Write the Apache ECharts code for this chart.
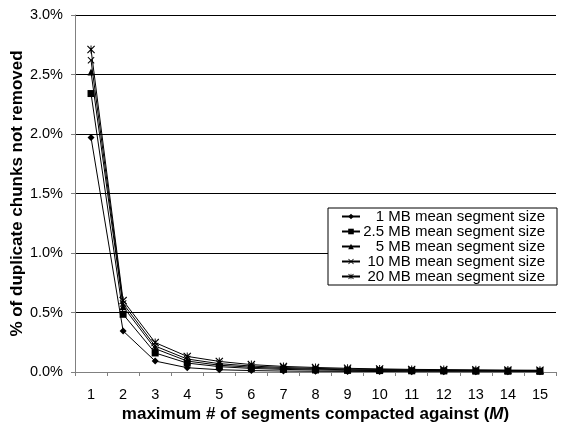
<!DOCTYPE html>
<html>
<head>
<meta charset="utf-8">
<script src="https://cdn.jsdelivr.net/npm/echarts@6/dist/echarts.min.js"></script>
<style>html,body{margin:0;padding:0;background:#fff}#c{width:568px;height:423px}</style>
</head>
<body>
<div id="c"></div>
<script>
const categories = ['1','2','3','4','5','6','7','8','9','10','11','12','13','14','15'];
const seriesNames = ['1 MB mean segment size','2.5 MB mean segment size','5 MB mean segment size','10 MB mean segment size','20 MB mean segment size'];
const s1MB   = [1.97, 0.345, 0.092, 0.036, 0.019, 0.012, 0.008, 0.006, 0.005, 0.004, 0.003, 0.003, 0.002, 0.002, 0.002];
const s2_5MB = [2.34, 0.485, 0.160, 0.075, 0.045, 0.030, 0.022, 0.017, 0.014, 0.012, 0.010, 0.009, 0.008, 0.007, 0.006];
const s5MB   = [2.52, 0.550, 0.196, 0.092, 0.057, 0.040, 0.030, 0.024, 0.019, 0.016, 0.014, 0.012, 0.011, 0.010, 0.009];
const s10MB  = [2.62, 0.575, 0.218, 0.109, 0.070, 0.050, 0.038, 0.030, 0.025, 0.021, 0.018, 0.016, 0.014, 0.013, 0.012];
const s20MB  = [2.71, 0.600, 0.247, 0.131, 0.089, 0.062, 0.047, 0.038, 0.031, 0.026, 0.022, 0.020, 0.018, 0.016, 0.015];
const yTicks = {min: 0, max: 3, interval: 0.5};

const crossPath = 'path://M0,1 L1,0 L5,4 L9,0 L10,1 L6,5 L10,9 L9,10 L5,6 L1,10 L0,9 L4,5 Z';
const starPath = 'path://M0,1 L1,0 L5,4 L9,0 L10,1 L6,5 L10,9 L9,10 L5,6 L1,10 L0,9 L4,5 Z M4.4,0 L5.6,0 L5.6,10 L4.4,10 Z';
const symbols = ['diamond','rect','triangle',crossPath,starPath];
const sizes = [7,7,7,7,8];
const allData = [s1MB, s2_5MB, s5MB, s10MB, s20MB];

const chart = echarts.init(document.getElementById('c'));
const font = 'Liberation Sans, Arial, sans-serif';
chart.setOption({
  animation: false,
  backgroundColor: '#fff',
  grid: {left: 75, right: 12, top: 15, bottom: 51, containLabel: false, outerBoundsMode: 'none'},
  legend: {
    orient: 'vertical',
    left: 328, top: 208,
    padding: [1, 12, 1, 13],
    itemGap: 0,
    itemWidth: 18,
    itemHeight: 7,
    backgroundColor: '#fff',
    borderColor: '#000',
    borderWidth: 1,
    borderRadius: 0,
    data: seriesNames,
    formatter: n => '{a|' + n + '}',
    textStyle: {
      fontFamily: font, fontSize: 15, color: '#000',
      rich: {a: {width: 180, lineHeight: 17, align: 'right', fontFamily: font, fontSize: 15, color: '#000'}}
    }
  },
  xAxis: {
    type: 'category',
    data: categories,
    boundaryGap: true,
    axisLine: {lineStyle: {color: '#808080', width: 1}},
    axisTick: {show: true, alignWithLabel: false, length: 4, lineStyle: {color: '#808080'}},
    axisLabel: {fontFamily: font, fontSize: 14.5, color: '#000', margin: 15},
    name: 'maximum # of segments compacted against ({i|M})',
    nameLocation: 'middle',
    nameGap: 34,
    nameMoveOverlap: false,
    nameTextStyle: {
      fontFamily: font, fontSize: 17, fontWeight: 'bold', color: '#000',
      rich: {i: {fontFamily: font, fontSize: 17, fontWeight: 'bold', fontStyle: 'italic', color: '#000'}}
    }
  },
  yAxis: {
    type: 'value',
    min: yTicks.min, max: yTicks.max, interval: yTicks.interval,
    axisLine: {show: true, lineStyle: {color: '#808080', width: 1}},
    axisTick: {show: true, length: 4, lineStyle: {color: '#808080'}},
    axisLabel: {fontFamily: font, fontSize: 14.5, color: '#000', margin: 12,
      formatter: v => v.toFixed(1) + '%'},
    splitLine: {show: true, lineStyle: {color: '#000', width: 1}},
    name: '% of duplicate chunks not removed',
    nameLocation: 'middle',
    nameGap: 49,
    nameMoveOverlap: false,
    nameTextStyle: {fontFamily: font, fontSize: 17, fontWeight: 'bold', color: '#000'}
  },
  series: allData.map((d, i) => ({
    name: seriesNames[i],
    type: 'line',
    data: d,
    symbol: symbols[i],
    symbolSize: sizes[i],
    showAllSymbol: true,
    lineStyle: {color: '#000', width: 1},
    itemStyle: {color: '#000', borderWidth: 0},
    emphasis: {disabled: true}
  }))
});
</script>
</body>
</html>
